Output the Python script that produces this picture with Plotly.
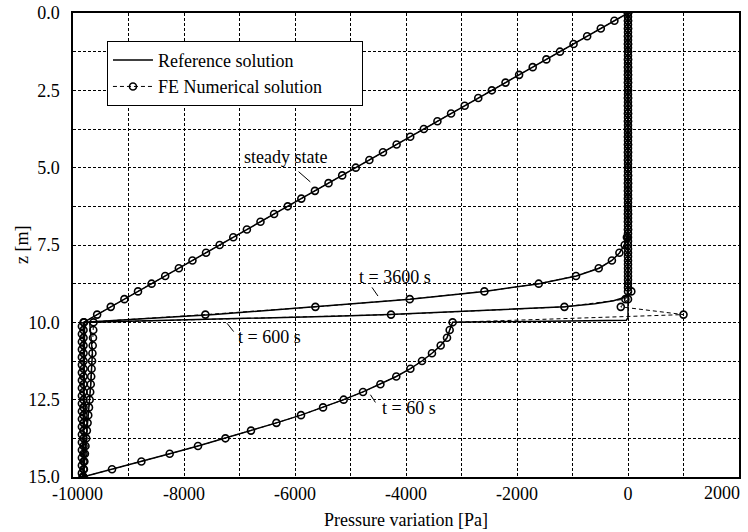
import plotly.graph_objects as go

# ---------------- data ----------------
# FE mesh nodes (m)
Z_MESH = [i * 0.25 for i in range(61)]                 # 0.0 ... 15.0
Z_UPPER_600 = [0.125 + 0.25 * i for i in range(36)]    # 0.125 ... 8.875
Z_LOWER_600 = [9.0 + 0.25 * i for i in range(25)]      # 9.0 ... 15.0
Z_UPPER_3600 = [i * 0.25 for i in range(41)]           # 0.0 ... 10.0
Z_LOWER_3600 = [10.125 + 0.25 * i for i in range(20)] + [15.0]

# steady state (Pa)
P_STEADY = [0, -245, -490, -736, -981, -1226, -1471, -1717, -1962, -2207,
            -2453, -2698, -2943, -3188, -3434, -3679, -3924, -4169, -4415, -4660,
            -4905, -5150, -5396, -5641, -5886, -6131, -6377, -6622, -6867, -7112,
            -7358, -7603, -7848, -8093, -8339, -8584, -8829, -9074, -9320, -9565,
            -9810] + [-9810] * 20

# t = 60 s
P_60 = [0] * 38 + [-130, 1000, -3160,
                   -3213, -3261, -3375, -3532, -3712, -3921, -4175, -4461, -4775, -5123,
                   -5495, -5892, -6335, -6793, -7254, -7748, -8258, -8768, -9297, -9825]

# t = 600 s
P_600_UPPER = [0] * 36
P_600_LOWER = [60, -47, -1146, -4270, -9630,
               -9635, -9640, -9645, -9650, -9657, -9665, -9672, -9680, -9690, -9700,
               -9712, -9725, -9737, -9750, -9762, -9775, -9785, -9795, -9803, -9810]

# t = 3600 s
P_3600_UPPER = [0] * 29 + [-20, -60, -155, -290, -528, -937, -1609, -2588,
                           -3933, -5633, -7615, -9800]
P_3600_LOWER = [-9840] * 20 + [-9825]

# reference solutions
REF_STEADY_Z = [0.0, 10.0, 15.0]
REF_STEADY_P = [0, -9810, -9810]

REF_3600_Z = [0.0, 7.0, 7.25, 7.5, 7.75, 8.0, 8.25, 8.5, 8.75, 9.0, 9.25, 9.5, 9.75, 10.0, 15.0]
REF_3600_P = [0, -5, -25, -65, -150, -290, -520, -930, -1600, -2590, -3930, -5640, -7450, -9790, -9820]

REF_600_Z = [0.0, 8.9, 9.0, 9.1, 9.2, 9.3, 9.4, 9.5, 9.6, 9.7, 9.75, 9.8, 9.9, 9.95, 10.0,
             11.0, 12.0, 13.0, 14.0, 15.0]
REF_600_P = [0, 0, -5, -20, -70, -260, -600, -1140, -2300, -3500, -4300, -5300, -7375, -8500,
             -9700, -9650, -9680, -9725, -9775, -9810]

REF_60_Z = [0.0, 9.85, 9.93] + Z_MESH[40:]
REF_60_P = [0, 0, -30] + P_60[40:]

# labels
LABELS = ["steady state", "t = 3600 s", "t = 600 s", "t = 60 s"]
LABEL_POS = [(-6180, 4.65), (-4191, 8.52), (-6465, 10.46), (-3951, 12.77)]
LEADERS = [((-5935, 5.13), (-5724, 5.46)),
           ((-4613, 8.87), (-4505, 9.15)),
           ((-7225, 10.03), (-7105, 10.30)),
           ((-4641, 12.34), (-4551, 12.59))]

X_TICKS = [-10000, -8000, -6000, -4000, -2000, 0, 2000]
X_TICKTEXT = ["\u00a0\u00a0-10000", "-8000", "-6000", "-4000", "-2000", "0", ""]
X_LAST_LABEL = "2000"          # drawn right-aligned to the axis end, like the reference
Y_TICKS = [0.0, 2.5, 5.0, 7.5, 10.0, 12.5, 15.0]

# ---------------- figure ----------------
FONT = "Liberation Serif, Times New Roman, serif"
fig = go.Figure()

ref_line = dict(color="black", width=1.5)
fe_line = dict(color="black", width=1, dash="4px,3px")
fe_marker = dict(symbol="circle-open", size=7, color="black", line=dict(width=1.6, color="black"))

refs = [(REF_STEADY_P, REF_STEADY_Z), (REF_3600_P, REF_3600_Z),
        (REF_600_P, REF_600_Z), (REF_60_P, REF_60_Z)]
for i, (p, z) in enumerate(refs):
    fig.add_trace(go.Scatter(x=p, y=z, mode="lines", line=ref_line,
                             name="Reference solution" + "\u00a0" * 14, legendgroup="ref",
                             showlegend=(i == 0)))

fes = [(P_STEADY, Z_MESH), (P_60, Z_MESH),
       (P_600_UPPER, Z_UPPER_600), (P_600_LOWER, Z_LOWER_600),
       (P_3600_UPPER, Z_UPPER_3600), (P_3600_LOWER, Z_LOWER_3600)]
for i, (p, z) in enumerate(fes):
    fig.add_trace(go.Scatter(x=p, y=z, mode="lines+markers", line=fe_line, marker=fe_marker,
                             name="FE Numerical solution", legendgroup="fe",
                             showlegend=(i == 0)))

for text, (px, pz) in zip(LABELS, LABEL_POS):
    fig.add_annotation(x=px, y=pz, text=text, showarrow=False,
                       font=dict(family=FONT, size=18, color="black"))
for (x0, y0), (x1, y1) in LEADERS:
    fig.add_shape(type="line", x0=x0, y0=y0, x1=x1, y1=y1,
                  line=dict(color="black", width=1))

# last x tick label, kept inside the picture
fig.add_annotation(x=X_TICKS[-1], xref="x", y=0, yref="paper", text=X_LAST_LABEL,
                   showarrow=False, xanchor="right", yanchor="middle",
                   xshift=3, yshift=-16,
                   font=dict(family=FONT, size=18, color="black"))

# y-axis title placed as rotated text left of the tick labels
fig.add_annotation(xref="paper", yref="paper", x=-0.0766, y=0.5, text="z [m]",
                   textangle=-90, showarrow=False, xanchor="center", yanchor="middle",
                   font=dict(family=FONT, size=18, color="black"))

grid = dict(showgrid=True, gridcolor="black", gridwidth=1, griddash="3px,2px")

fig.update_xaxes(range=[-10000, 2000], tickvals=X_TICKS, ticktext=X_TICKTEXT,
                 automargin=False,
                 showline=True, linecolor="black", linewidth=1.5, mirror=True,
                 ticks="", zeroline=False,
                 minor=dict(dtick=1000, tick0=0, **grid), **grid,
                 title=dict(text="Pressure variation [Pa]", standoff=10,
                            font=dict(family=FONT, size=18, color="black")),
                 tickfont=dict(family=FONT, size=18, color="black"))
fig.update_yaxes(range=[15, 0], tickvals=Y_TICKS,
                 ticktext=[f"{v:.1f}" for v in Y_TICKS],
                 automargin=False,
                 showline=True, linecolor="black", linewidth=1.5, mirror=True,
                 ticks="", zeroline=False, ticklabelstandoff=8,
                 minor=dict(dtick=1.25, tick0=0, **grid), **grid,
                 tickfont=dict(family=FONT, size=18, color="black"))

fig.update_layout(
    width=748, height=532,
    margin=dict(l=73, r=9, t=13, b=55),
    paper_bgcolor="white", plot_bgcolor="white",
    font=dict(family=FONT, size=18, color="black"),
    legend=dict(x=0.051, y=0.94, xanchor="left", yanchor="top",
                bgcolor="white", bordercolor="black", borderwidth=1,
                font=dict(family=FONT, size=18, color="black"),
                itemwidth=40, tracegroupgap=0),
)

fig.write_html("out.html")
